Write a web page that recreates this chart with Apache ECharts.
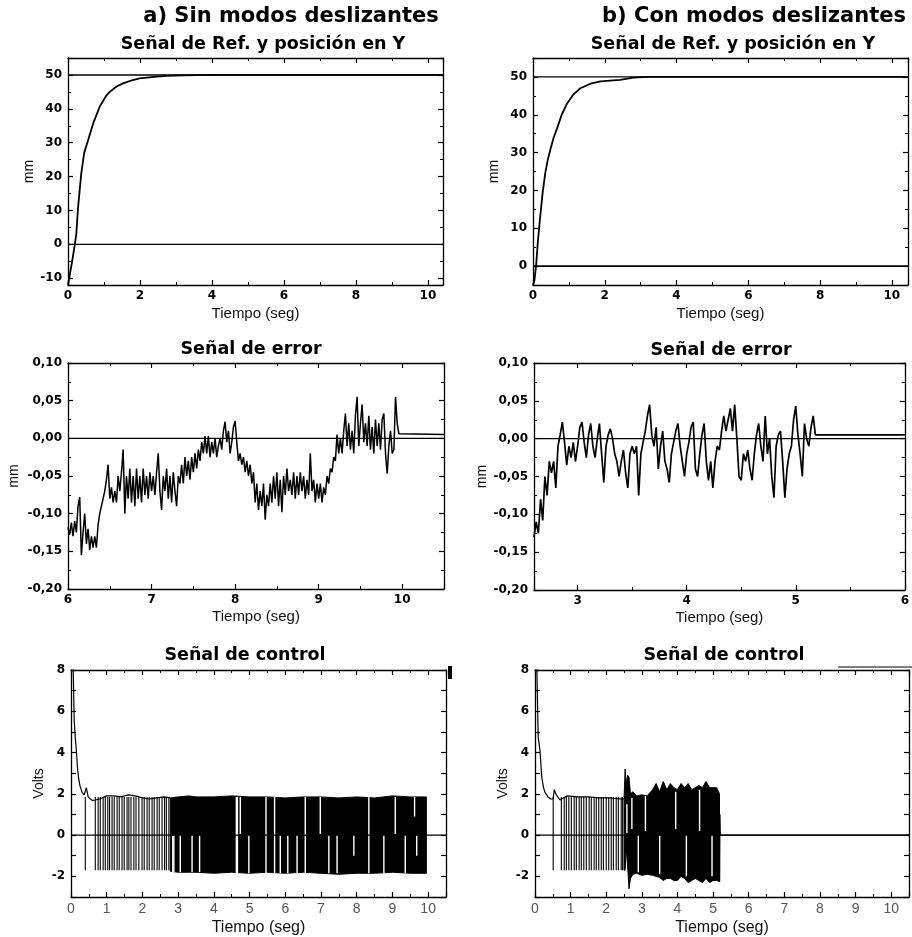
<!DOCTYPE html>
<html>
<head>
<meta charset="utf-8">
<title>Sin / Con modos deslizantes</title>
<script src="https://cdn.jsdelivr.net/npm/echarts@6/dist/echarts.min.js"></script>
<style>
  html, body { margin: 0; padding: 0; background: #fff; }
  #chart { width: 912px; height: 937px; }
</style>
</head>
<body>
<div id="chart"></div>
<script>
// ---- Señal de Ref. y posición en Y (mm) ----
const refLevel = 50
const posA_t = [0, 0.05, 0.12, 0.19, 0.23, 0.28, 0.37, 0.45, 0.56, 0.70, 0.88, 1.07, 1.16, 1.35, 1.53, 1.8, 1.99, 2.4, 2.74, 3.2, 4, 10.4]
const posA_v = [-12, -11.6, -4.7, 0, 3, 11, 21, 27, 30.8, 35.7, 40.6, 44, 45, 46.6, 47.5, 48.5, 49, 49.4, 49.7, 49.9, 50, 50]
const posB_t = [0, 0.04, 0.09, 0.14, 0.2, 0.27, 0.34, 0.41, 0.48, 0.57, 0.67, 0.8, 0.95, 1.12, 1.32, 1.6, 1.88, 2.15, 2.43, 2.8, 3.2, 10.45]
const posB_v = [-5, -3.8, 0.6, 7, 13, 19.5, 24.5, 28, 30.7, 33.8, 36.4, 40, 43, 45.3, 47, 48.2, 48.8, 49, 49.2, 49.8, 50, 50]

// ---- Señal de error (mm), muestras cada 0.02 s ----
const errA_start = 6.0
const errA_step = 0.02
const errA_v = [
  -0.118, -0.128, -0.112, -0.13, -0.11, -0.125, -0.09, -0.078, -0.155, -0.125,
  -0.10, -0.14, -0.12, -0.148, -0.13, -0.145, -0.13, -0.145, -0.115, -0.10,
  -0.09, -0.08, -0.07, -0.055, -0.035, -0.08, -0.065, -0.085, -0.07, -0.085,
  -0.05, -0.07, -0.045, -0.015, -0.10, -0.05, -0.08, -0.04, -0.085, -0.05,
  -0.09, -0.04, -0.08, -0.05, -0.085, -0.04, -0.075, -0.05, -0.08, -0.045,
  -0.07, -0.05, -0.075, -0.045, -0.02, -0.07, -0.095, -0.05, -0.07, -0.04,
  -0.08, -0.05, -0.085, -0.045, -0.07, -0.09, -0.05, -0.06, -0.035, -0.06,
  -0.025, -0.05, -0.03, -0.055, -0.025, -0.045, -0.02, -0.04, -0.015, -0.03,
  -0.005, -0.02, 0.003, -0.02, 0.003, -0.025, -0.005, -0.02, 0.0, -0.025,
  -0.01, 0.0, -0.015, 0.01, 0.022, -0.005, 0.01, -0.02, -0.005, 0.015,
  0.023, -0.005, -0.03, -0.02, -0.035, -0.025, -0.045, -0.03, -0.05, -0.035,
  -0.06, -0.045, -0.085, -0.06, -0.095, -0.07, -0.09, -0.06, -0.108, -0.075,
  -0.09, -0.06, -0.085, -0.05, -0.08, -0.045, -0.09, -0.055, -0.098, -0.05,
  -0.075, -0.04, -0.07, -0.055, -0.075, -0.045, -0.08, -0.05, -0.075, -0.045,
  -0.07, -0.05, -0.08, -0.055, -0.075, -0.02, -0.07, -0.055, -0.085, -0.06,
  -0.08, -0.06, -0.085, -0.065, -0.075, -0.05, -0.06, -0.04, -0.045, -0.025,
  -0.03, 0.005, -0.02, 0.0, -0.02, 0.01, 0.033, -0.01, 0.02, -0.015,
  0.01, -0.02, 0.03, 0.055, -0.01, 0.02, 0.045, -0.005, 0.02, -0.01,
  0.03, -0.015, 0.015, -0.02, 0.025, -0.01, 0.02, -0.015, 0.025, 0.033,
  -0.02, -0.047, -0.01, 0.01, -0.02, -0.015, 0.055, 0.02, 0.006, 0.005
]
const errA_tail = [10.5, 0.005]

const errB_start = 2.6
const errB_step = 0.02
const errB_v = [
  -0.13, -0.11, -0.125, -0.08, -0.108, -0.05, -0.075, -0.03, -0.045, -0.03,
  -0.065, -0.01, 0.005, 0.022, -0.005, -0.035, -0.01, -0.025, -0.005, -0.03,
  -0.01, 0.015, 0.022, -0.005, -0.025, 0.005, 0.02, -0.01, -0.025, 0.0,
  0.02, -0.02, -0.058, -0.01, 0.005, 0.013, 0.0, -0.02, -0.03, -0.05,
  -0.03, -0.015, -0.045, -0.065, -0.02, -0.01, -0.02, -0.01, -0.075, -0.02,
  -0.005, 0.01, 0.03, 0.045, 0.005, -0.01, 0.015, -0.04, -0.01, 0.01,
  -0.03, -0.04, -0.058, -0.02, -0.005, 0.01, 0.02, -0.01, -0.03, -0.05,
  -0.02, -0.005, 0.015, 0.022, -0.04, -0.05, -0.02, 0.005, 0.02, -0.03,
  -0.055, -0.03, -0.065, -0.03, -0.01, -0.015, 0.01, 0.03, 0.01, 0.025,
  0.04, 0.01, 0.045, 0.0, -0.05, -0.055, -0.02, -0.03, -0.015, -0.04,
  -0.055, -0.02, 0.005, 0.02, -0.01, -0.03, 0.03, -0.02, 0.0, -0.05,
  -0.078, -0.01, 0.005, 0.01, -0.03, -0.078, -0.04, -0.02, -0.01, 0.025,
  0.043, 0.005, -0.02, -0.05, 0.02, 0.0, -0.01, 0.015, 0.03, 0.005
]
const errB_tail = [6.0, 0.005]

// ---- Señal de control (Volts) ----
const ctrlA_t = [0, 0.06, 0.09, 0.12, 0.15, 0.18, 0.21, 0.25, 0.31, 0.37, 0.40, 0.43, 0.48, 0.54, 0.60, 0.68, 0.8, 1.0, 1.2, 1.4, 1.6, 1.8, 2.0, 2.2, 2.4, 2.6, 2.78]
const ctrlA_v = [9, 8.2, 5.55, 4.7, 4.1, 3.3, 2.8, 2.4, 2.07, 1.95, 1.9, 2.3, 1.85, 1.75, 1.68, 1.7, 1.75, 1.9, 1.9, 1.85, 1.95, 1.9, 1.8, 1.75, 1.8, 1.85, 1.8]
const ctrlA_spikes = [0.40, 0.68, 0.76, 0.82, 0.90, 0.96, 1.03, 1.08, 1.15, 1.21, 1.29, 1.35, 1.43, 1.49, 1.57, 1.62, 1.68, 1.76, 1.82, 1.90, 1.99, 2.05, 2.13, 2.19, 2.27, 2.33, 2.41, 2.47, 2.55, 2.62, 2.67, 2.74]
const ctrlA_spikeHi = 1.85
const ctrlA_spikeLo = -1.7
const ctrlA_band_t = [2.78, 3.0, 3.3, 3.5, 4.0, 4.5, 5.0, 5.5, 6.0, 6.5, 7.0, 7.5, 8.0, 8.5, 9.0, 9.5, 9.95]
const ctrlA_band_hi = [1.8, 1.85, 1.9, 1.85, 1.85, 1.9, 1.85, 1.85, 1.8, 1.85, 1.85, 1.8, 1.85, 1.8, 1.9, 1.85, 1.85]
const ctrlA_band_lo = [-1.75, -1.8, -1.8, -1.8, -1.85, -1.8, -1.85, -1.8, -1.85, -1.8, -1.85, -1.9, -1.85, -1.85, -1.8, -1.85, -1.85]
const ctrlA_gaps = [
  [2.85, -0.05, -1.8], [2.88, -0.05, -1.8], [3.06, 0, -1.8], [3.39, 0, -1.8], [3.6, 0, -1.8],
  [4.63, 1.85, -1.85], [4.66, 1.85, -1.85], [4.74, 1.85, 0.05], [4.98, 0, -1.85], [5.46, 1.85, -1.85],
  [5.70, 1.85, -1.85], [5.86, 0, -1.85], [6.07, 0, -1.85], [6.33, 0, -1.85], [6.56, 1.85, -1.85],
  [6.98, 1.85, 0.05], [7.22, 0, -1.85], [7.45, 0, -1.85], [7.92, 0, -1.0], [8.34, 1.85, -1.85],
  [8.76, 0, -1.85], [9.08, 1.85, 0.05], [9.36, 0, -1.85], [9.62, 1.85, 0.9], [9.68, 0, -1.0]
]

const ctrlB_t = [0, 0.05, 0.09, 0.14, 0.19, 0.24, 0.28, 0.33, 0.37, 0.44, 0.51, 0.54, 0.6, 0.7, 0.9, 1.2, 1.5, 1.8, 2.1, 2.4, 2.5]
const ctrlB_v = [9, 8.2, 4.75, 4.1, 2.8, 2.3, 2.07, 1.95, 1.83, 1.75, 1.75, 2.2, 1.95, 1.7, 1.9, 1.85, 1.85, 1.8, 1.8, 1.75, 1.75]
const ctrlB_spikes = [0.51, 0.74, 0.82, 0.88, 0.95, 1.02, 1.10, 1.16, 1.24, 1.30, 1.37, 1.44, 1.52, 1.58, 1.66, 1.72, 1.79, 1.86, 1.92, 2.00, 2.07, 2.14, 2.20, 2.28, 2.34, 2.42, 2.46]
const ctrlB_spikeHi = 1.85
const ctrlB_spikeLo = -1.7
const ctrlB_band_t = [2.50, 2.53, 2.56, 2.60, 2.64, 2.68, 2.75, 2.85, 3.00, 3.15, 3.30, 3.40, 3.50, 3.60, 3.70, 3.80, 3.90, 4.00, 4.10, 4.20, 4.30, 4.40, 4.50, 4.60, 4.70, 4.80, 4.90, 5.00, 5.10, 5.18]
const ctrlB_band_hi = [1.75, 3.2, 2.5, 2.9, 2.8, 2.0, 2.1, 1.9, 1.95, 1.9, 2.2, 2.5, 2.1, 2.6, 2.2, 2.5, 2.3, 2.2, 2.5, 2.3, 2.5, 2.2, 2.3, 2.4, 2.3, 2.6, 2.3, 2.3, 2.3, 2.0]
const ctrlB_band_lo = [-1.7, -1.7, -0.6, -1.5, -2.6, -2.1, -1.9, -1.85, -1.95, -1.9, -1.95, -2.0, -2.05, -2.2, -2.1, -2.1, -2.2, -2.2, -2.0, -2.1, -2.3, -2.2, -2.1, -2.2, -2.3, -2.1, -2.3, -2.2, -2.2, -2.25]
const ctrlB_gaps = [
  [2.58, 1.5, 0.1], [2.72, 1.8, 0.3], [2.9, 0, -1.8], [3.1, 1.9, 0.2], [3.5, 0, -1.9],
  [3.95, 2.1, 0.3], [4.25, 0, -2.0], [4.62, 2.2, 0.2], [4.97, 0, -2.0]
]
const ctrlB_end_t = [5.18, 5.19, 5.2, 10.5]
const ctrlB_end_v = [-2.25, 1.0, 0, 0]

const FONT = '"Liberation Sans", Arial, sans-serif'
const HEAVY = '"DejaVu Sans", sans-serif'

const grids = [
  { left: 68, top: 58, width: 375, height: 227 },
  { left: 533, top: 58, width: 375, height: 227 },
  { left: 68, top: 363, width: 376, height: 226 },
  { left: 534, top: 363, width: 375, height: 227 },
  { left: 71, top: 670, width: 375, height: 227 },
  { left: 535, top: 670, width: 376, height: 227 }
]

const xAxis = []
const yAxis = []
const series = []

function pairs(ts, vs) {
  return ts.map((t, i) => [t, vs[i]])
}
function sampled(start, step, values) {
  return values.map((v, i) => [+(start + i * step).toFixed(3), v])
}

function tickFmt(step, digits, comma) {
  return function(v) {
    const k = v / step
    if (Math.abs(k - Math.round(k)) > 1e-6) return ''
    const s = (Math.abs(v) < 1e-9 ? 0 : v).toFixed(digits)
    return comma ? s.replace('.', ',') : s
  }
}

function addAxes(g, o) {
  const line = { onZero: false, lineStyle: { color: '#000', width: 1.3 } }
  const tick = { inside: true, length: 5, lineStyle: { color: '#000', width: 1.2 } }
  const minor = n => ({ show: !!n, splitNumber: n || 2, length: 3, lineStyle: { color: '#000', width: 1 } })
  ;['bottom', 'top'].forEach(pos => {
    const main = pos === 'bottom'
    xAxis.push({
      type: 'value', gridIndex: g, position: pos,
      min: o.x.min, max: o.x.max, interval: o.x.interval, splitNumber: o.x.splitNumber,
      name: main ? 'Tiempo (seg)' : '', nameLocation: 'middle', nameGap: o.x.nameGap,
      nameTextStyle: { fontFamily: FONT, fontSize: o.x.nameSize || 15, color: '#111' },
      axisLine: line, axisTick: tick, minorTick: minor(o.x.minor),
      axisLabel: Object.assign({
        show: main, formatter: tickFmt(o.x.step, 0, false), margin: 5,
        fontFamily: HEAVY, fontWeight: 'bold', fontSize: 12, color: '#000'
      }, o.x.label || {}),
      splitLine: { show: false }
    })
  })
  ;['left', 'right'].forEach(pos => {
    const main = pos === 'left'
    yAxis.push({
      type: 'value', gridIndex: g, position: pos,
      min: o.y.min, max: o.y.max, interval: o.y.interval, splitNumber: o.y.splitNumber,
      name: main ? o.y.name : '', nameLocation: 'middle', nameGap: o.y.nameGap,
      nameTextStyle: { fontFamily: FONT, fontSize: 14, color: '#111' },
      axisLine: line, axisTick: tick, minorTick: minor(o.y.minor),
      axisLabel: {
        show: main, formatter: tickFmt(o.y.step, o.y.digits || 0, o.y.comma), margin: 6,
        fontFamily: HEAVY, fontWeight: 'bold', fontSize: 12, color: '#000'
      },
      splitLine: { show: false }
    })
  })
}

function lineSeries(g, data, width) {
  return {
    type: 'line', xAxisIndex: g * 2, yAxisIndex: g * 2,
    data: data, showSymbol: false, symbol: 'none', animation: false, silent: true,
    lineStyle: { color: '#000', width: width || 1.2 }, z: 3
  }
}

// vertical strokes [t, from, to]
function strokeSeries(g, data, color, width, z) {
  return {
    type: 'custom', xAxisIndex: g * 2, yAxisIndex: g * 2,
    data: data, encode: { x: 0, y: [1, 2] }, animation: false, silent: true, z: z,
    renderItem: function(params, api) {
      const a = api.coord([api.value(0), api.value(1)])
      const b = api.coord([api.value(0), api.value(2)])
      return {
        type: 'line',
        shape: { x1: a[0], y1: a[1], x2: b[0], y2: b[1] },
        style: { stroke: color, lineWidth: width }
      }
    }
  }
}

// dense switching region drawn as a filled envelope
function bandSeries(g, ts, hi, lo) {
  return {
    type: 'custom', xAxisIndex: g * 2, yAxisIndex: g * 2,
    data: [[ts[0], hi[0]]], animation: false, silent: true, z: 2,
    renderItem: function(params, api) {
      const pts = ts.map((t, i) => api.coord([t, hi[i]]))
      for (let i = ts.length - 1; i >= 0; i--) pts.push(api.coord([ts[i], lo[i]]))
      return { type: 'polygon', shape: { points: pts }, style: { fill: '#000', stroke: '#000', lineWidth: 1 } }
    }
  }
}

// panel 1 / 2: posición
addAxes(0, {
  x: { min: 0, max: 10.42, interval: 2, step: 2, minor: 2, nameGap: 21 },
  y: { min: -12, max: 55, splitNumber: 5, step: 10, minor: 2, name: 'mm', nameGap: 32 }
})
addAxes(1, {
  x: { min: 0, max: 10.45, interval: 2, step: 2, minor: 2, nameGap: 21 },
  y: { min: -5, max: 55, splitNumber: 6, step: 10, minor: 2, name: 'mm', nameGap: 32 }
})
// panel 3 / 4: error
addAxes(2, {
  x: { min: 6, max: 10.5, interval: 1, step: 1, minor: 2, nameGap: 20 },
  y: { min: -0.2, max: 0.1, interval: 0.05, step: 0.05, digits: 2, comma: true, minor: 2, name: 'mm', nameGap: 47 }
})
addAxes(3, {
  x: { min: 2.6, max: 6, splitNumber: 3, step: 1, minor: 2, nameGap: 20 },
  y: { min: -0.2, max: 0.1, interval: 0.05, step: 0.05, digits: 2, comma: true, minor: 2, name: 'mm', nameGap: 45 }
})
// panel 5 / 6: control
const ctrlXLabel = { fontFamily: FONT, fontWeight: 'normal', fontSize: 14, color: '#555' }
addAxes(4, {
  x: { min: 0, max: 10.5, interval: 1, step: 1, minor: 2, nameGap: 23, nameSize: 16, label: ctrlXLabel },
  y: { min: -3, max: 8, interval: 1, step: 2, name: 'Volts', nameGap: 25 }
})
addAxes(5, {
  x: { min: 0, max: 10.5, interval: 1, step: 1, minor: 2, nameGap: 23, nameSize: 16, label: ctrlXLabel },
  y: { min: -3, max: 8, interval: 1, step: 2, name: 'Volts', nameGap: 25 }
})

series.push(
  lineSeries(0, [[0, refLevel], [10.42, refLevel]], 1.4),
  lineSeries(0, [[0, 0], [10.42, 0]], 1.4),
  lineSeries(0, pairs(posA_t, posA_v), 1.8),
  lineSeries(1, [[0, refLevel], [10.45, refLevel]], 1.4),
  lineSeries(1, [[0, 0], [10.45, 0]], 1.6),
  lineSeries(1, pairs(posB_t, posB_v), 1.8),

  lineSeries(2, [[6, 0], [10.5, 0]], 1.3),
  lineSeries(2, sampled(errA_start, errA_step, errA_v).concat([errA_tail]), 1.5),
  lineSeries(3, [[2.6, 0], [6, 0]], 1.3),
  lineSeries(3, sampled(errB_start, errB_step, errB_v).concat([errB_tail]), 1.7),

  bandSeries(4, ctrlA_band_t, ctrlA_band_hi, ctrlA_band_lo),
  strokeSeries(4, ctrlA_spikes.map(t => [t, ctrlA_spikeHi, ctrlA_spikeLo]), '#000', 1.1, 3),
  strokeSeries(4, ctrlA_gaps, '#fff', 1.4, 4),
  lineSeries(4, pairs(ctrlA_t, ctrlA_v), 1.2),
  Object.assign(lineSeries(4, [[0, 0], [10.5, 0]], 1.1), { z: 5 }),

  bandSeries(5, ctrlB_band_t, ctrlB_band_hi, ctrlB_band_lo),
  strokeSeries(5, ctrlB_spikes.map(t => [t, ctrlB_spikeHi, ctrlB_spikeLo]), '#000', 1.1, 3),
  strokeSeries(5, ctrlB_gaps, '#fff', 1.4, 4),
  lineSeries(5, pairs(ctrlB_t, ctrlB_v), 1.2),
  lineSeries(5, pairs(ctrlB_end_t, ctrlB_end_v), 1.4),
  Object.assign(lineSeries(5, [[0, 0], [10.5, 0]], 1.1), { z: 5 })
)

function heading(text, x, y, size) {
  return {
    text: text, left: x, top: y, textAlign: 'center', padding: 0,
    textStyle: { fontFamily: HEAVY, fontWeight: 'bold', fontSize: size, color: '#000' }
  }
}

const option = {
  backgroundColor: '#fff',
  animation: false,
  title: [
    heading('a) Sin modos deslizantes', 291, 6, 21),
    heading('b) Con modos deslizantes', 754, 6, 21),
    heading('Señal de Ref. y posición en Y', 263, 35, 17.5),
    heading('Señal de Ref. y posición en Y', 733, 35, 17.5),
    heading('Señal de error', 251, 340, 17.5),
    heading('Señal de error', 721, 341, 17.5),
    heading('Señal de control', 245, 646, 17.5),
    heading('Señal de control', 724, 646, 17.5)
  ],
  grid: grids,
  xAxis: xAxis,
  yAxis: yAxis,
  series: series,
  graphic: [
    { type: 'rect', shape: { x: 448, y: 666, width: 4, height: 13 }, style: { fill: '#000' } },
    { type: 'line', shape: { x1: 838, y1: 667, x2: 912, y2: 667 }, style: { stroke: '#000', lineWidth: 1 } }
  ]
}

const chartDom = echarts.init(document.getElementById('chart'))
chartDom.setOption(option)
</script>
</body>
</html>
